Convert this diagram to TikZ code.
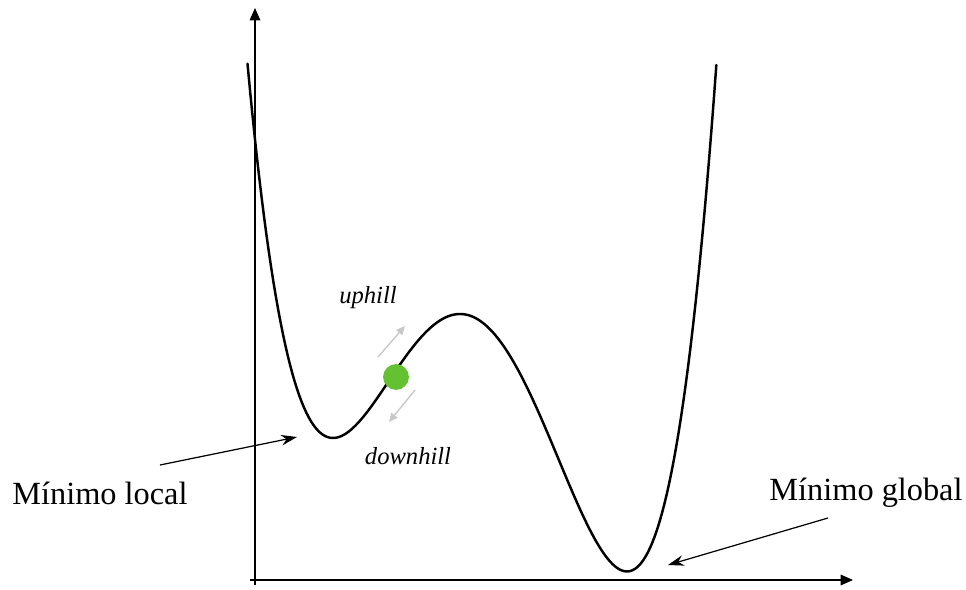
\documentclass[tikz,border=0pt]{standalone}
\usepackage{fontspec}
\setmainfont{Liberation Serif}
\usetikzlibrary{arrows.meta, positioning}
\definecolor{ballgreen}{RGB}{99, 193, 50}
\definecolor{hintgray}{RGB}{200, 200, 200}

\begin{document}
\begin{tikzpicture}[x=0.02cm, y=-0.02cm,
  axis/.style={-{Triangle[length=7pt, width=6pt]}, line width=0.8pt},
  pointer/.style={-{Stealth[length=9pt, width=6pt]}, line width=0.7pt},
  hint/.style={-{Triangle[length=5pt, width=4.5pt]}, hintgray, line width=0.8pt}]

  \useasboundingbox (0,0) rectangle (966,590);

  % ejes
  \draw[axis] (255,585) -- (255,8);
  \draw[axis] (250,580) -- (853,580);

  % función con dos mínimos (cuártica: extremos en x = 333, 460, 627)
  \draw[line width=1.4pt, line cap=round]
    plot[domain=-2.125:2.565, samples=200, variable=\v]
      ({460+100*\v}, {314-157.57*(0.25*\v*\v*\v*\v-0.13333*\v*\v*\v-1.06045*\v*\v)});

  % bola
  \node[circle, fill=ballgreen, minimum size=14.7pt, inner sep=0pt] (ball) at (396,377) {};

  % direcciones
  \coordinate (upA) at (378,357);
  \coordinate (upB) at (405,326);
  \coordinate (dnA) at (415,390);
  \coordinate (dnB) at (389,422);
  \draw[hint] (upA) -- (upB);
  \draw[hint] (dnA) -- (dnB);
  \node[font=\fontsize{14}{16}\selectfont\itshape] (up) at (368,298) {uphill};
  \node[font=\fontsize{14}{16}\selectfont\itshape] (down) at (408,456) {downhill};

  % etiquetas de los mínimos
  \node[font=\fontsize{18.4}{22}\selectfont] (loc) at (100,493) {Mínimo local};
  \node[font=\fontsize{18.4}{22}\selectfont] (glob) at (866,493) {Mínimo global};
  \coordinate (locA) at (160,465);
  \coordinate (locB) at (297,437);
  \coordinate (globA) at (828,518);
  \coordinate (globB) at (668,565);
  \draw[pointer] (locA) -- (locB);
  \draw[pointer] (globA) -- (globB);

\end{tikzpicture}
\end{document}
